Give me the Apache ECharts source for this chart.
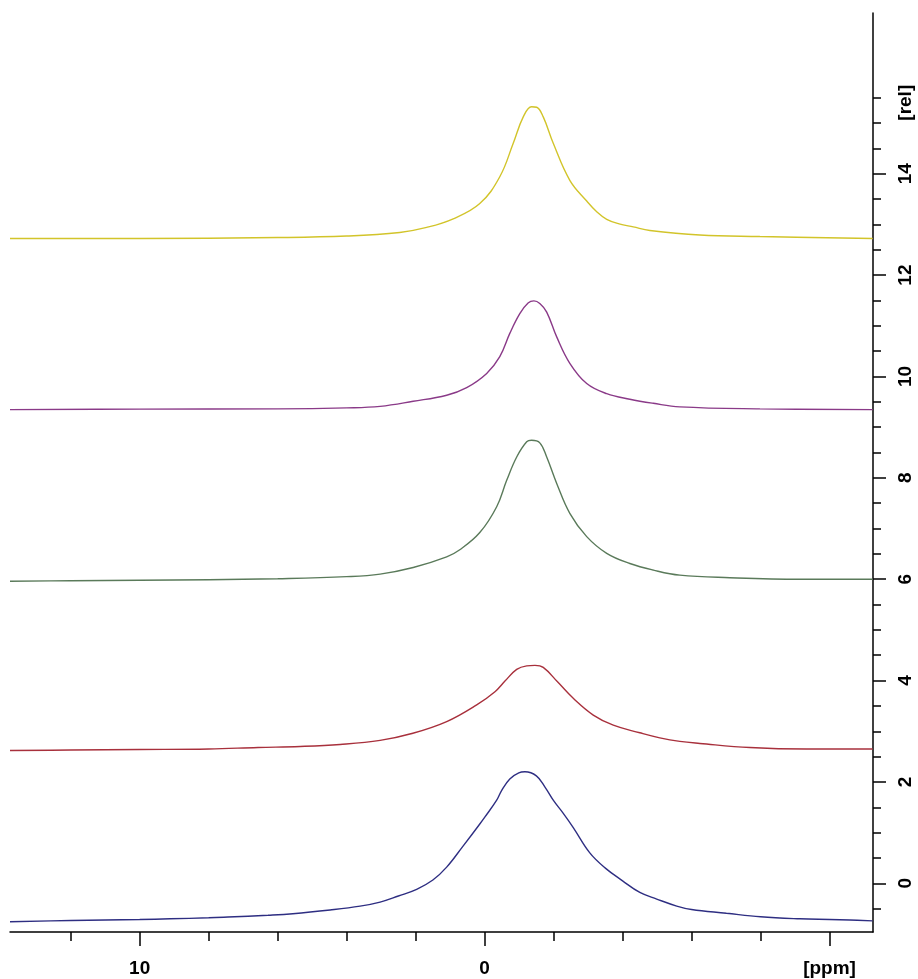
<!DOCTYPE html>
<html>
<head>
<meta charset="utf-8">
<script src="https://cdn.jsdelivr.net/npm/echarts@6/dist/echarts.min.js"></script>
<style>html,body{margin:0;padding:0;background:#fff}#c{width:918px;height:979px}</style>
</head>
<body>
<div id="c"></div>
<script>
// ---- data (ppm, rel) ----
const bluePpm = [13.76,12.0,10.0,9.12,8.0,7.44,6.28,5.56,4.48,3.61,3.03,2.50,1.97,1.50,1.10,0.62,0.14,0,-0.35,-0.50,-0.73,-0.99,-1.17,-1.50,-1.75,-2.0,-2.27,-2.57,-3.05,-3.50,-4.0,-4.50,-4.99,-5.57,-6.0,-7.01,-8.0,-9.14,-10.0,-10.59,-11.25];
const blueRel = [-0.757,-0.734,-0.714,-0.70,-0.68,-0.665,-0.63,-0.60,-0.526,-0.45,-0.37,-0.25,-0.118,0.065,0.32,0.74,1.17,1.30,1.64,1.84,2.06,2.18,2.20,2.12,1.90,1.63,1.39,1.10,0.60,0.30,0.05,-0.18,-0.31,-0.448,-0.517,-0.59,-0.66,-0.70,-0.714,-0.724,-0.74];

const redPpm = [13.76,12,10,8,6.57,5.35,4.19,3.03,2.08,1.10,0.23,-0.30,-0.59,-0.93,-1.22,-1.46,-1.70,-2.12,-2.57,-3.15,-3.73,-4.50,-5.08,-5.66,-6.24,-7.69,-9.33,-11.25];
const redRel = [2.62,2.63,2.64,2.65,2.68,2.70,2.74,2.82,2.96,3.19,3.52,3.78,3.99,4.22,4.29,4.30,4.26,3.97,3.65,3.32,3.12,2.97,2.87,2.80,2.76,2.68,2.65,2.65];

const greenPpm = [13.76,12,10,8,6,4,3.03,2.07,1.10,0.72,0.14,-0.35,-0.64,-0.93,-1.22,-1.36,-1.60,-1.80,-2.09,-2.47,-2.96,-3.54,-4.21,-4.89,-5.66,-7.11,-9.14,-11.25];
const greenRel = [5.96,5.97,5.98,5.99,6.01,6.05,6.10,6.23,6.44,6.58,6.92,7.43,7.95,8.41,8.71,8.74,8.69,8.41,7.89,7.30,6.84,6.51,6.31,6.18,6.08,6.03,6.00,6.00];

const purplePpm = [13.76,10,6,4,3.03,2.07,1.10,0.52,-0.06,-0.44,-0.73,-1.02,-1.26,-1.43,-1.60,-1.80,-2.09,-2.47,-2.96,-3.54,-4.21,-4.89,-5.66,-7.98,-11.25];
const purpleRel = [9.345,9.355,9.36,9.38,9.41,9.51,9.63,9.78,10.06,10.39,10.85,11.24,11.45,11.49,11.44,11.27,10.78,10.26,9.86,9.66,9.55,9.47,9.40,9.36,9.345];

const yellowPpm = [13.76,10,6,4,2.46,1.68,0.91,0.14,-0.44,-0.83,-1.12,-1.36,-1.51,-1.70,-1.99,-2.47,-2.96,-3.25,-3.54,-3.90,-4.31,-4.79,-6.24,-7.98,-11.25];
const yellowRel = [12.72,12.72,12.74,12.77,12.84,12.94,13.11,13.41,13.94,14.60,15.12,15.32,15.31,15.12,14.60,13.87,13.46,13.25,13.10,13.01,12.95,12.88,12.79,12.76,12.72];

// ---- axis ticks / labels ----
const xMajorTicks = [10, 0, -10];
const xMinorTicks = [12, 8, 6, 4, 2, -2, -4, -6, -8];
const yMajorTicks = [0, 2, 4, 6, 8, 10, 12, 14];
const yMinorTicks = [-0.5,0.5,1,1.5,2.5,3,3.5,4.5,5,5.5,6.5,7,7.5,8.5,9,9.5,10.5,11,11.5,12.5,13,13.5,14.5,15,15.5];
const xUnitLabel = '[ppm]';
const yUnitLabel = '[rel]';
const yUnitPos = 15.4;

const X_MIN = -11.26, X_MAX = 13.76;
const Y_MIN = -0.96, Y_MAX = 17.17;

const zip = (xs, ys) => xs.map((x, i) => [x, ys[i]]);
const labelFont = {fontFamily: 'Liberation Sans, Arial, sans-serif', fontWeight: 'bold', fontSize: 19, color: '#000'};

const chart = echarts.init(document.getElementById('c'), null, {renderer: 'canvas'});
const mkSeries = (name, xs, ys, color) => ({
  name, type: 'line', data: zip(xs, ys), xAxisIndex: 0, yAxisIndex: 0,
  showSymbol: false, symbol: 'none', smooth: 0.4,
  lineStyle: {color, width: 1.4}, itemStyle: {color}, z: 3
});

chart.setOption({
  animation: false,
  backgroundColor: '#fff',
  grid: {left: 10, right: 45, top: 13, bottom: 47, containLabel: false},
  xAxis: [
    {
      type: 'value', inverse: true, min: X_MIN, max: X_MAX, position: 'bottom',
      axisLine: {show: true, onZero: false, lineStyle: {color: '#000', width: 1.5}},
      axisTick: {show: true, customValues: xMajorTicks, length: 14, lineStyle: {color: '#000', width: 1.5}},
      axisLabel: Object.assign({customValues: xMajorTicks, margin: 27,
        formatter: v => (v === -10 ? xUnitLabel : String(v))}, labelFont),
      splitLine: {show: false}
    },
    {
      type: 'value', inverse: true, min: X_MIN, max: X_MAX, position: 'bottom',
      axisLine: {show: false, onZero: false},
      axisTick: {show: true, customValues: xMinorTicks, length: 9, lineStyle: {color: '#000', width: 1.5}},
      axisLabel: {show: false},
      splitLine: {show: false}
    }
  ],
  yAxis: [
    {
      type: 'value', min: Y_MIN, max: Y_MAX, position: 'right',
      axisLine: {show: true, onZero: false, lineStyle: {color: '#000', width: 1.5}},
      axisTick: {show: true, customValues: yMajorTicks, length: 13, lineStyle: {color: '#000', width: 1.5}},
      axisLabel: Object.assign({customValues: yMajorTicks, margin: 23, rotate: 90}, labelFont),
      splitLine: {show: false}
    },
    {
      type: 'value', min: Y_MIN, max: Y_MAX, position: 'right',
      axisLine: {show: false, onZero: false},
      axisTick: {show: true, customValues: yMinorTicks, length: 8, lineStyle: {color: '#000', width: 1.5}},
      axisLabel: Object.assign({customValues: [yUnitPos], margin: 23, rotate: 90,
        formatter: () => yUnitLabel}, labelFont),
      splitLine: {show: false}
    }
  ],
  series: [
    mkSeries('blue', bluePpm, blueRel, '#2e2e82'),
    mkSeries('red', redPpm, redRel, '#a8303c'),
    mkSeries('green', greenPpm, greenRel, '#5a7a5a'),
    mkSeries('purple', purplePpm, purpleRel, '#8a3a88'),
    mkSeries('yellow', yellowPpm, yellowRel, '#d2c42a')
  ]
});
</script>
</body>
</html>
